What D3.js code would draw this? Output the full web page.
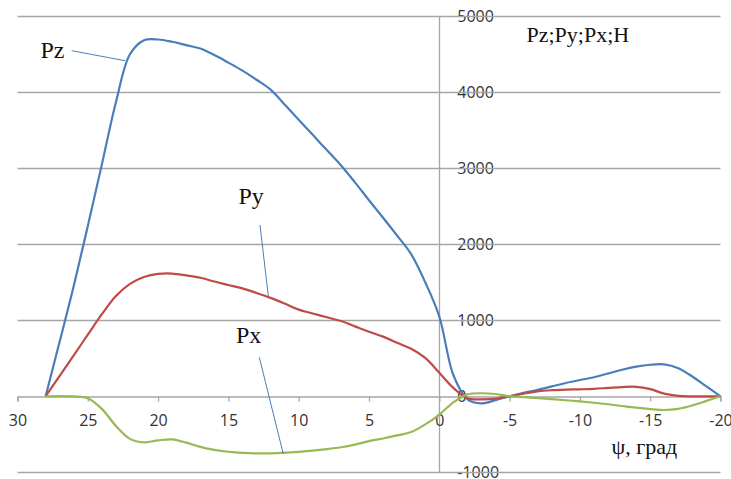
<!DOCTYPE html>
<html>
<head>
<meta charset="utf-8">
<script src="https://cdn.jsdelivr.net/npm/d3@7"></script>
<style>
html,body{margin:0;padding:0;background:#fff;}
svg{display:block;}
</style>
</head>
<body>
<svg id="chart" width="731" height="479"></svg>
<script>
// ---- data ----
const psi = [28,27,26,25,24,23,22,21,20,19,18,17,16,15,14,13,12,11,10,9,8,7,6,5,4,3,2,1,0,-1,-2,-3,-4,-5,-6,-7,-8,-9,-10,-11,-12,-13,-14,-15,-16,-17,-18,-19,-20];
const pz = [0,720,1450,2240,3050,3870,4500,4685,4695,4665,4620,4576,4490,4390,4285,4165,4035,3840,3640,3440,3240,3040,2815,2580,2350,2115,1870,1500,1050,280,-40,-92,-50,0,45,85,130,175,214,250,300,350,390,415,420,370,260,130,0];
const py = [0,270,540,810,1080,1320,1480,1570,1610,1615,1590,1560,1510,1465,1420,1360,1295,1220,1140,1090,1040,990,920,850,785,705,625,505,310,110,-25,-40,-30,0,35,65,80,88,92,98,110,122,125,95,35,5,0,0,0];
const px = [0,3,-2,-25,-165,-390,-560,-605,-580,-568,-610,-665,-705,-730,-745,-752,-750,-742,-730,-715,-695,-670,-635,-590,-555,-515,-470,-370,-240,-80,25,40,30,0,-12,-25,-38,-52,-68,-85,-105,-128,-150,-168,-180,-165,-120,-60,0];
const seriesNames = ["Pz","Py","Px"];
const xTicks = [30,25,20,15,10,5,0,-5,-10,-15,-20];
const yTicks = [-1000,0,1000,2000,3000,4000,5000];
const yTitle = "Pz;Py;Px;H";
const xTitle = "ψ, град";

// ---- drawing ----
const svg = d3.select("#chart");
const x = d3.scaleLinear().domain([30,-20]).range([17.5,720.5]);
const y = d3.scaleLinear().domain([-1000,5000]).range([472.3,16.3]);
const colors = ["#4a7ebb","#be4b48","#98b954"];
const gridColor = "#a6a6a6";
const tickFont = "'Open Sans', sans-serif";
const fmt = d => String(d);

// y tick labels (right of vertical axis)
const yAxis = d3.axisRight(y).tickValues(yTicks).tickSize(0).tickPadding(18).tickFormat(fmt);
const gy = svg.append("g").attr("transform",`translate(${x(0)},0)`).call(yAxis);
gy.select(".domain").remove();
gy.selectAll("text").attr("font-family",tickFont).attr("font-size",16).attr("fill","#333");

// gridlines
svg.append("g").selectAll("line").data(yTicks.filter(d=>d!==0)).join("line")
  .attr("x1",x(30)).attr("x2",x(-20))
  .attr("y1",d=>Math.round(y(d))+0.5).attr("y2",d=>Math.round(y(d))+0.5)
  .attr("stroke",gridColor).attr("stroke-width",1.3);

// vertical axis line
svg.append("line")
  .attr("x1",Math.round(x(0))+0.5).attr("x2",Math.round(x(0))+0.5)
  .attr("y1",y(5000)).attr("y2",y(-1000))
  .attr("stroke",gridColor).attr("stroke-width",1.3);

// x axis at y=0
const xAxis = d3.axisBottom(x).tickValues(xTicks).tickSize(5).tickPadding(12.8).tickFormat(fmt);
const gx = svg.append("g").attr("transform",`translate(0,${Math.round(y(0))+0.5})`).call(xAxis);
gx.select(".domain").attr("stroke",gridColor).attr("stroke-width",1.3);
gx.selectAll(".tick line").attr("stroke",gridColor).attr("stroke-width",1.3);
gx.selectAll("text").attr("font-family",tickFont).attr("font-size",16).attr("fill","#333");

// series lines
const data = [pz,py,px];
const line = d3.line().x(d=>x(d[0])).y(d=>y(d[1])).curve(d3.curveCatmullRom.alpha(0.5));
data.forEach((vals,i)=>{
  svg.append("path")
    .datum(psi.map((p,j)=>[p,vals[j]]))
    .attr("d",line)
    .attr("fill","none")
    .attr("stroke",colors[i])
    .attr("stroke-width",2.2)
    .attr("stroke-linejoin","round");
});

// series labels with leader lines
const labelFont = "'Liberation Serif','Times New Roman',serif";
const labels = [
  {name:seriesNames[0], tx:40.5, ty:57.5, l:[[71.7,50.7],[125,60.7]]},
  {name:seriesNames[1], tx:238.5, ty:203.5, l:[[260,225],[268.3,296]]},
  {name:seriesNames[2], tx:236, ty:342.5, l:[[259.3,357.3],[283.3,454]]}
];
labels.forEach(lb=>{
  svg.append("text").attr("x",lb.tx).attr("y",lb.ty).text(lb.name)
    .attr("font-family",labelFont).attr("font-size",24).attr("fill","#111");
  svg.append("line").attr("x1",lb.l[0][0]).attr("y1",lb.l[0][1]).attr("x2",lb.l[1][0]).attr("y2",lb.l[1][1])
    .attr("stroke","#4a7ebb").attr("stroke-width",1);
});

// axis titles
svg.append("text").attr("x",526.5).attr("y",41.5).text(yTitle)
  .attr("font-family",labelFont).attr("font-size",22).attr("fill","#111");
svg.append("text").attr("x",611.5).attr("y",454).text(xTitle)
  .attr("font-family",labelFont).attr("font-size",22).attr("fill","#111");
</script>
</body>
</html>
